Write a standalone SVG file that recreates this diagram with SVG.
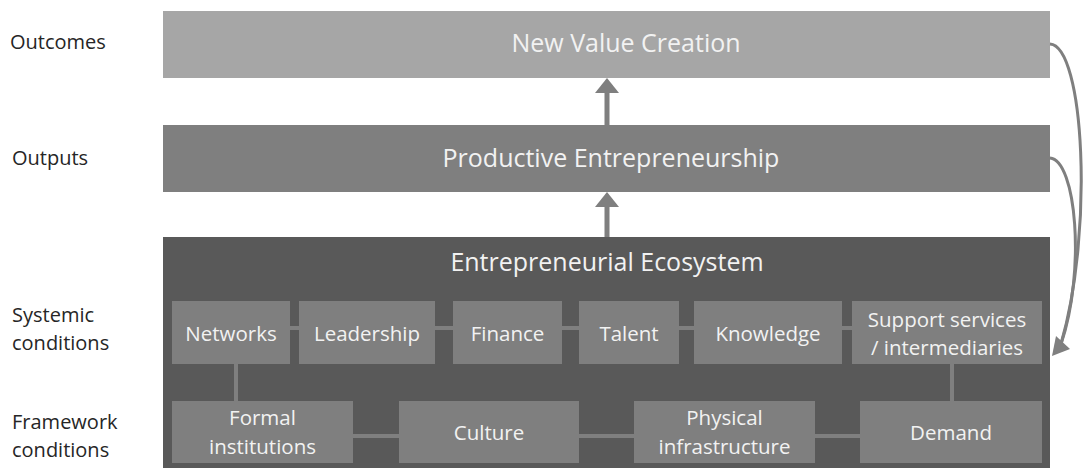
<svg xmlns="http://www.w3.org/2000/svg" width="1083" height="468" viewBox="0 0 1083 468">
<style>
.lbl{font-family:"Open Sans","Liberation Sans",sans-serif;font-size:20px;fill:#262626}
.big{font-family:"Open Sans","Liberation Sans",sans-serif;font-size:25px;fill:#f2f2f2;text-anchor:middle}
.sm{font-family:"Open Sans","Liberation Sans",sans-serif;font-size:20.5px;fill:#f2f2f2;text-anchor:middle}
.box{fill:#7f7f7f}
.ln{stroke:#7f7f7f;stroke-width:4;fill:none}
.cv{stroke:#7f7f7f;stroke-width:3;fill:none}
.ar{fill:#7f7f7f}
</style>
<rect width="1083" height="468" fill="#ffffff"/>
<g id="labels">
<text class="lbl" x="10" y="49">Outcomes</text>
<text class="lbl" x="12" y="165">Outputs</text>
<text class="lbl" x="12" y="322">Systemic</text>
<text class="lbl" x="12" y="350">conditions</text>
<text class="lbl" x="12" y="429">Framework</text>
<text class="lbl" x="12" y="457">conditions</text>
</g>
<g id="outcomes">
<rect x="163" y="11" width="887" height="67" fill="#a6a6a6"/>
<text class="big" x="626" y="52">New Value Creation</text>
</g>
<g id="outputs">
<rect x="163" y="125" width="887" height="67" fill="#7f7f7f"/>
<text class="big" x="611" y="167">Productive Entrepreneurship</text>
</g>
<g id="ecosystem">
<rect x="163" y="237" width="887" height="231" fill="#595959"/>
<text class="big" x="607" y="271">Entrepreneurial Ecosystem</text>
</g>
<g id="connectors">
<line class="ln" x1="290" y1="328" x2="299" y2="328"/>
<line class="ln" x1="435" y1="328" x2="453" y2="328"/>
<line class="ln" x1="562" y1="328" x2="579" y2="328"/>
<line class="ln" x1="679" y1="328" x2="694" y2="328"/>
<line class="ln" x1="842" y1="328" x2="852" y2="328"/>
<line class="ln" x1="236" y1="364" x2="236" y2="401"/>
<line class="ln" x1="952" y1="364" x2="952" y2="401"/>
<line class="ln" x1="353" y1="436" x2="399" y2="436"/>
<line class="ln" x1="579" y1="436" x2="634" y2="436"/>
<line class="ln" x1="815" y1="436" x2="860" y2="436"/>
<rect class="ar" x="604.5" y="91" width="5" height="34"/>
<polygon class="ar" points="607,78 619,93 595,93"/>
<rect class="ar" x="604.5" y="205" width="5" height="32"/>
<polygon class="ar" points="607,192 619,207 595,207"/>
<path class="cv" d="M1050,44 C1084,46 1094,230 1061,344"/>
<path class="cv" d="M1050,158 C1076,160 1086,270 1061,344"/>
<polygon class="ar" points="1052,356 1056,336 1070,349"/>
</g>
<g id="networks"><rect class="box" x="172" y="301" width="118" height="63"/><text class="sm" x="231" y="341">Networks</text></g>
<g id="leadership"><rect class="box" x="299" y="301" width="136" height="63"/><text class="sm" x="367" y="341">Leadership</text></g>
<g id="finance"><rect class="box" x="453" y="301" width="109" height="63"/><text class="sm" x="507.5" y="341">Finance</text></g>
<g id="talent"><rect class="box" x="579" y="301" width="100" height="63"/><text class="sm" x="629" y="341">Talent</text></g>
<g id="knowledge"><rect class="box" x="694" y="301" width="148" height="63"/><text class="sm" x="768" y="341">Knowledge</text></g>
<g id="support"><rect class="box" x="852" y="301" width="190" height="63"/><text class="sm" x="947" y="327">Support services</text><text class="sm" x="947" y="355">/ intermediaries</text></g>
<g id="formal"><rect class="box" x="172" y="401" width="181" height="62"/><text class="sm" x="262.5" y="425">Formal</text><text class="sm" x="262.5" y="454">institutions</text></g>
<g id="culture"><rect class="box" x="399" y="401" width="180" height="62"/><text class="sm" x="489" y="440">Culture</text></g>
<g id="physical"><rect class="box" x="634" y="401" width="181" height="62"/><text class="sm" x="724.5" y="425">Physical</text><text class="sm" x="724.5" y="454">infrastructure</text></g>
<g id="demand"><rect class="box" x="860" y="401" width="182" height="62"/><text class="sm" x="951" y="440">Demand</text></g>
</svg>
